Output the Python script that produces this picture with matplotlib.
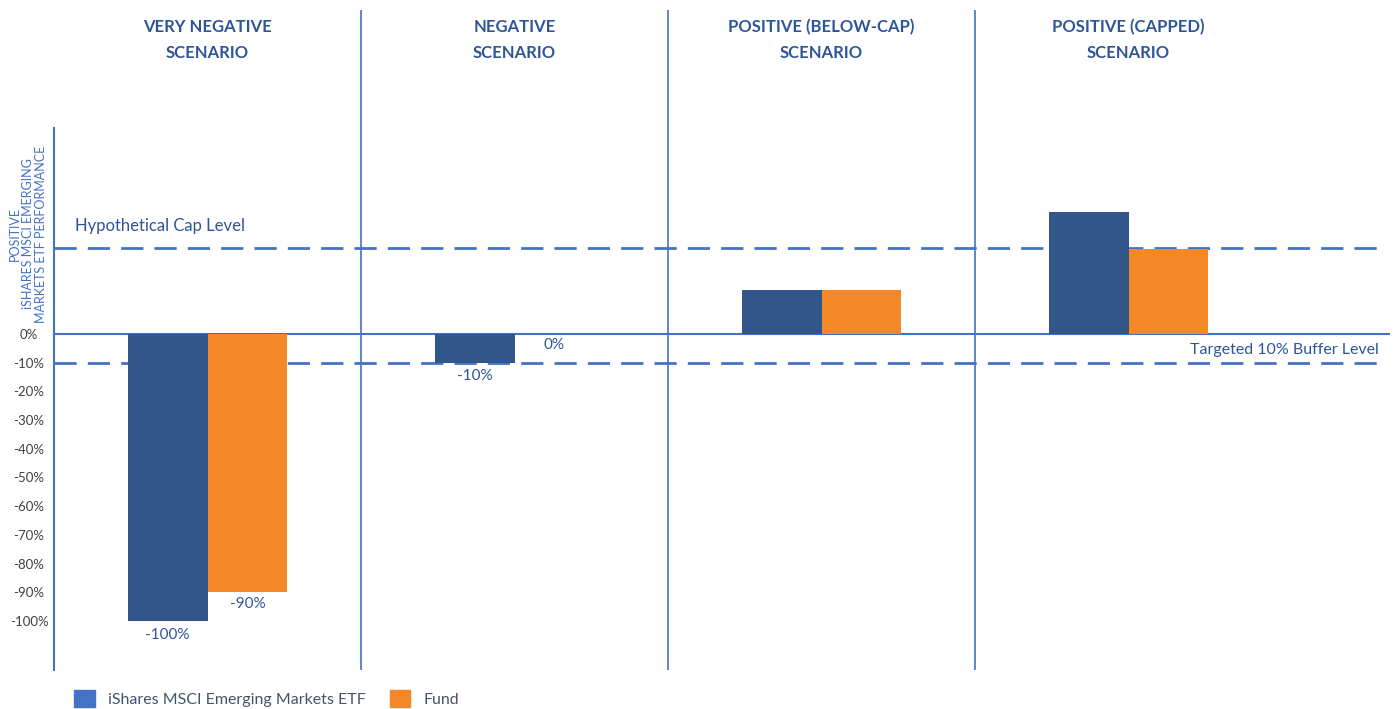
import matplotlib.pyplot as plt
from matplotlib.patches import Patch

# scenario data (percent)
scenarios = ["VERY NEGATIVE\nSCENARIO", "NEGATIVE\nSCENARIO",
             "POSITIVE (BELOW-CAP)\nSCENARIO", "POSITIVE (CAPPED)\nSCENARIO"]
etf_values = [-100, -10, 15.5, 42.5]
fund_values = [-90, 0, 15.5, 29.7]
value_labels_etf = ["-100%", "-10%", None, None]
value_labels_fund = ["-90%", "0%", None, None]
cap_level = 30
buffer_level = -10
y_ticks = [0, -10, -20, -30, -40, -50, -60, -70, -80, -90, -100]

ETF_COLOR = "#32558A"
FUND_COLOR = "#F48727"
LINE_COLOR = "#4472C4"
TEXT_BLUE = "#2F5597"

plt.rcParams['font.family'] = ['Lato', 'DejaVu Sans']

fig = plt.figure(figsize=(13.98, 7.09), dpi=100)
W, H = 1398, 709
ax = fig.add_axes([54 / W, (H - 670) / H, (1390 - 54) / W, (670 - 10) / H])

y_top = (334 - 10) / 2.87
y_bot = (334 - 670) / 2.87
ax.set_ylim(y_bot, y_top)
ax.set_xlim(0, (1390 - 54) / 307)

# dashed reference levels and zero line (behind bars)
ax.axhline(cap_level, xmax=0.993, color=LINE_COLOR, lw=2, dashes=(8, 4), zorder=1)
ax.axhline(buffer_level, xmax=0.993, color=LINE_COLOR, lw=2, dashes=(8, 4), zorder=1)
ax.axhline(0, color=LINE_COLOR, lw=1.5, zorder=1)

bar_w = 0.26
for i in range(len(scenarios)):
    ax.bar(i + 0.37, etf_values[i], width=bar_w, color=ETF_COLOR, zorder=2)
    ax.bar(i + 0.63, fund_values[i], width=bar_w, color=FUND_COLOR, zorder=2)
    if value_labels_etf[i]:
        ax.text(i + 0.37, etf_values[i] - 4.8, value_labels_etf[i], ha='center', va='center',
                color=TEXT_BLUE, fontsize=11)
    if value_labels_fund[i]:
        ax.text(i + 0.63, fund_values[i] - 4.0, value_labels_fund[i], ha='center', va='center',
                color=TEXT_BLUE, fontsize=11)
    ax.text(i + 0.5, 102.5, scenarios[i], ha='center', va='center', color=TEXT_BLUE,
            fontsize=12, fontweight='bold', linespacing=1.75)

# scenario dividers
ax.vlines([1, 2, 3], y_bot, y_top, color=LINE_COLOR, lw=1.2)

ax.text(0.07, 37.5, "Hypothetical Cap Level", ha='left', va='center', color=TEXT_BLUE, fontsize=12)
ax.text(4.315, -5.5, "Targeted 10% Buffer Level", ha='right', va='center', color=TEXT_BLUE, fontsize=11.5)

for s in ['top', 'right', 'bottom']:
    ax.spines[s].set_visible(False)
ax.spines['left'].set_color(LINE_COLOR)
ax.spines['left'].set_linewidth(1.5)
ax.spines['left'].set_bounds(y_bot, (334 - 128) / 2.87)

ax.set_xticks([])
ax.set_yticks(y_ticks)
ax.set_yticklabels([f"{v}%" for v in y_ticks], color="#404040", fontsize=9.5)
ax.tick_params(axis='y', length=0, pad=18)
for lbl in ax.get_yticklabels():
    lbl.set_horizontalalignment('center')

fig.text(28 / W, 1 - 234 / H, "POSITIVE\niSHARES MSCI EMERGING\nMARKETS ETF PERFORMANCE",
         rotation=90, ha='center', va='center', color=LINE_COLOR, fontsize=9, linespacing=1.12)

handles = [Patch(color="#4472C4", label="iShares MSCI Emerging Markets ETF"),
           Patch(color=FUND_COLOR, label="Fund")]
fig.legend(handles=handles, loc='lower left', bbox_to_anchor=(60 / W, -0.018), ncol=2,
           frameon=False, fontsize=11.5, handlelength=1.3, handleheight=1.3,
           columnspacing=1.5, handletextpad=0.8, labelcolor="#44546A")

fig.savefig("out.png", dpi=100)
